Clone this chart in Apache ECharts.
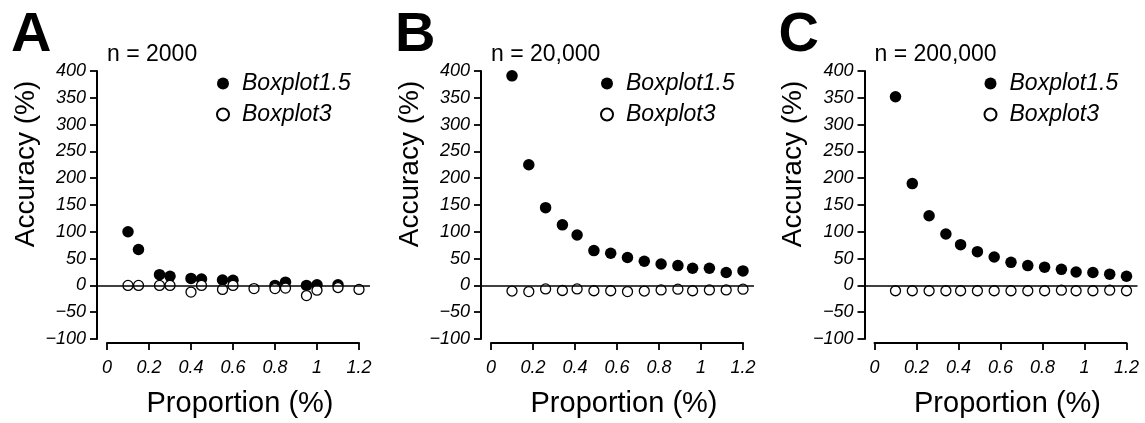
<!DOCTYPE html>
<html>
<head>
<meta charset="utf-8">
<script src="https://cdn.jsdelivr.net/npm/echarts@6/dist/echarts.min.js"></script>
<style>
  html, body { margin: 0; padding: 0; background: #fff; }
  #main { width: 1145px; height: 423px; }
</style>
</head>
<body>
<div id="main"></div>
<script>
// panel A, n = 2000
var propA15 = [0.1, 0.15, 0.25, 0.3, 0.4, 0.45, 0.55, 0.6, 0.8, 0.85, 0.95, 1.0, 1.1];
var accA15  = [100, 67, 20, 17, 13, 12, 10, 9.5, 0, 6, 0, 1, 1];
var propA3  = [0.1, 0.15, 0.25, 0.3, 0.4, 0.45, 0.55, 0.6, 0.7, 0.8, 0.85, 0.95, 1.0, 1.1, 1.2];
var accA3   = [0, 0, 0, 0, -12.5, 0, -7.5, 0, -6, -6, -5, -19, -9, -4, -7.5];

// panels B and C share the proportions
var propBC  = [0.1, 0.18, 0.26, 0.34, 0.41, 0.49, 0.57, 0.65, 0.73, 0.81, 0.89, 0.96, 1.04, 1.12, 1.2];
var accB15  = [391, 225, 145, 113, 94, 65, 60, 52, 45, 40, 37, 32, 32, 24, 27];
var accB3   = [-10.5, -11.5, -6.5, -9.5, -6.5, -10, -10, -11.5, -10.5, -8.5, -7, -10, -8.5, -8.5, -7];
var accC15  = [352, 190, 130, 96, 76, 63, 53, 43, 37, 34, 30, 25, 24, 21, 17];
var accC3   = [-10, -10, -10, -10, -10, -10, -10, -10, -10, -10, -9, -10, -10, -9, -10];

var panelLetters = ['A', 'B', 'C'];
var sampleLabels = ['n = 2000', 'n = 20,000', 'n = 200,000'];

var FONT = '"Liberation Sans", Arial, Helvetica, sans-serif';

function pairs(xs, ys) {
    var out = [];
    for (var i = 0; i < xs.length; i++) out.push([xs[i], ys[i]]);
    return out;
}

var panels = [
    { x0: 107,   b15: pairs(propA15, accA15), b3: pairs(propA3, accA3) },
    { x0: 491,   b15: pairs(propBC, accB15),  b3: pairs(propBC, accB3) },
    { x0: 874.5, b15: pairs(propBC, accC15),  b3: pairs(propBC, accC3) }
];

var TOP = 71, HEIGHT = 268, PXW = 252;      // 0..1.2 spans PXW pixels
var PAD_L = 10, PAD_R = 11;                 // detached y axis / zero line overhang
var pxPerUnit = PXW / 1.2;

var grid = [], xAxis = [], yAxis = [], series = [], title = [], legend = [];

panels.forEach(function (p, k) {
    var gData = grid.length;
    // data grid, a bit wider than 0..1.2 so the y axis sits detached
    grid.push({ left: p.x0 - PAD_L, top: TOP, width: PXW + PAD_L + PAD_R, height: HEIGHT });
    // tick grid, exactly 0..1.2
    grid.push({ left: p.x0, top: TOP, width: PXW, height: HEIGHT });

    xAxis.push({
        gridIndex: gData, type: 'value',
        min: -PAD_L / pxPerUnit, max: 1.2 + PAD_R / pxPerUnit,
        show: false
    });
    yAxis.push({
        gridIndex: gData, type: 'value', min: -100, max: 400, interval: 50,
        axisLine: { show: true, onZero: false, lineStyle: { color: '#000', width: 2 } },
        axisTick: { show: true, inside: false, length: 7, lineStyle: { color: '#000', width: 1.8 } },
        axisLabel: {
            color: '#000', fontSize: 18, fontStyle: 'italic', fontFamily: FONT, margin: 11,
            formatter: function (v) { return String(v).replace('-', '\u2212'); }
        },
        splitLine: { show: false },
        name: 'Accuracy (%)', nameLocation: 'middle', nameGap: 57,
        nameTextStyle: { color: '#000', fontSize: 28, fontFamily: FONT, padding: [0, 0, 0, 82] }
    });

    xAxis.push({
        gridIndex: gData + 1, type: 'value', min: 0, max: 1.2, interval: 0.2, offset: 7,
        axisLine: { show: true, onZero: false, lineStyle: { color: '#000', width: 2 } },
        axisTick: { show: true, inside: false, length: 7, lineStyle: { color: '#000', width: 1.8 } },
        axisLabel: { color: '#000', fontSize: 18, fontStyle: 'italic', fontFamily: FONT, margin: 16,
                     showMinLabel: true, showMaxLabel: true },
        splitLine: { show: false },
        name: 'Proportion (%)', nameLocation: 'middle', nameGap: 46,
        nameTextStyle: { color: '#000', fontSize: 29, fontFamily: FONT, padding: [0, 0, 0, 14] }
    });
    yAxis.push({ gridIndex: gData + 1, type: 'value', min: -100, max: 400, show: false });

    var xi = xAxis.length - 2, yi = yAxis.length - 2;
    series.push({
        name: 'Boxplot1.5', type: 'scatter', xAxisIndex: xi, yAxisIndex: yi,
        data: p.b15, symbol: 'circle', symbolSize: 11.5, z: 3,
        itemStyle: { color: '#000', opacity: 1 },
        markLine: {
            silent: true, symbol: 'none', label: { show: false },
            lineStyle: { color: '#000', width: 1.6, type: 'solid' },
            data: [{ yAxis: 0 }]
        }
    });
    series.push({
        name: 'Boxplot3', type: 'scatter', xAxisIndex: xi, yAxisIndex: yi,
        data: p.b3, symbol: 'circle', symbolSize: 10, z: 4,
        itemStyle: { color: '#fff', borderColor: '#000', borderWidth: 1.3, opacity: 1 }
    });

    title.push({
        text: panelLetters[k], left: p.x0 - 101, top: 3,
        textStyle: { fontSize: 56, fontWeight: 900, color: '#000', fontFamily: FONT }
    });
    title.push({
        text: sampleLabels[k], left: p.x0 - 5, top: 38,
        textStyle: { fontSize: 23, fontWeight: 'normal', color: '#000', fontFamily: FONT }
    });

    legend.push({
        data: ['Boxplot1.5', 'Boxplot3'], orient: 'vertical',
        left: p.x0 + 104, top: 67, itemGap: 8,
        itemWidth: 12, itemHeight: 12, selectedMode: false,
        textStyle: { fontSize: 23, fontStyle: 'italic', color: '#000', fontFamily: FONT,
                     lineHeight: 22, padding: [0, 0, 0, 8] }
    });
});

var chart = echarts.init(document.getElementById('main'), null, { renderer: 'canvas' });
chart.setOption({
    animation: false,
    backgroundColor: '#fff',
    title: title,
    legend: legend,
    grid: grid,
    xAxis: xAxis,
    yAxis: yAxis,
    series: series
});
</script>
</body>
</html>
